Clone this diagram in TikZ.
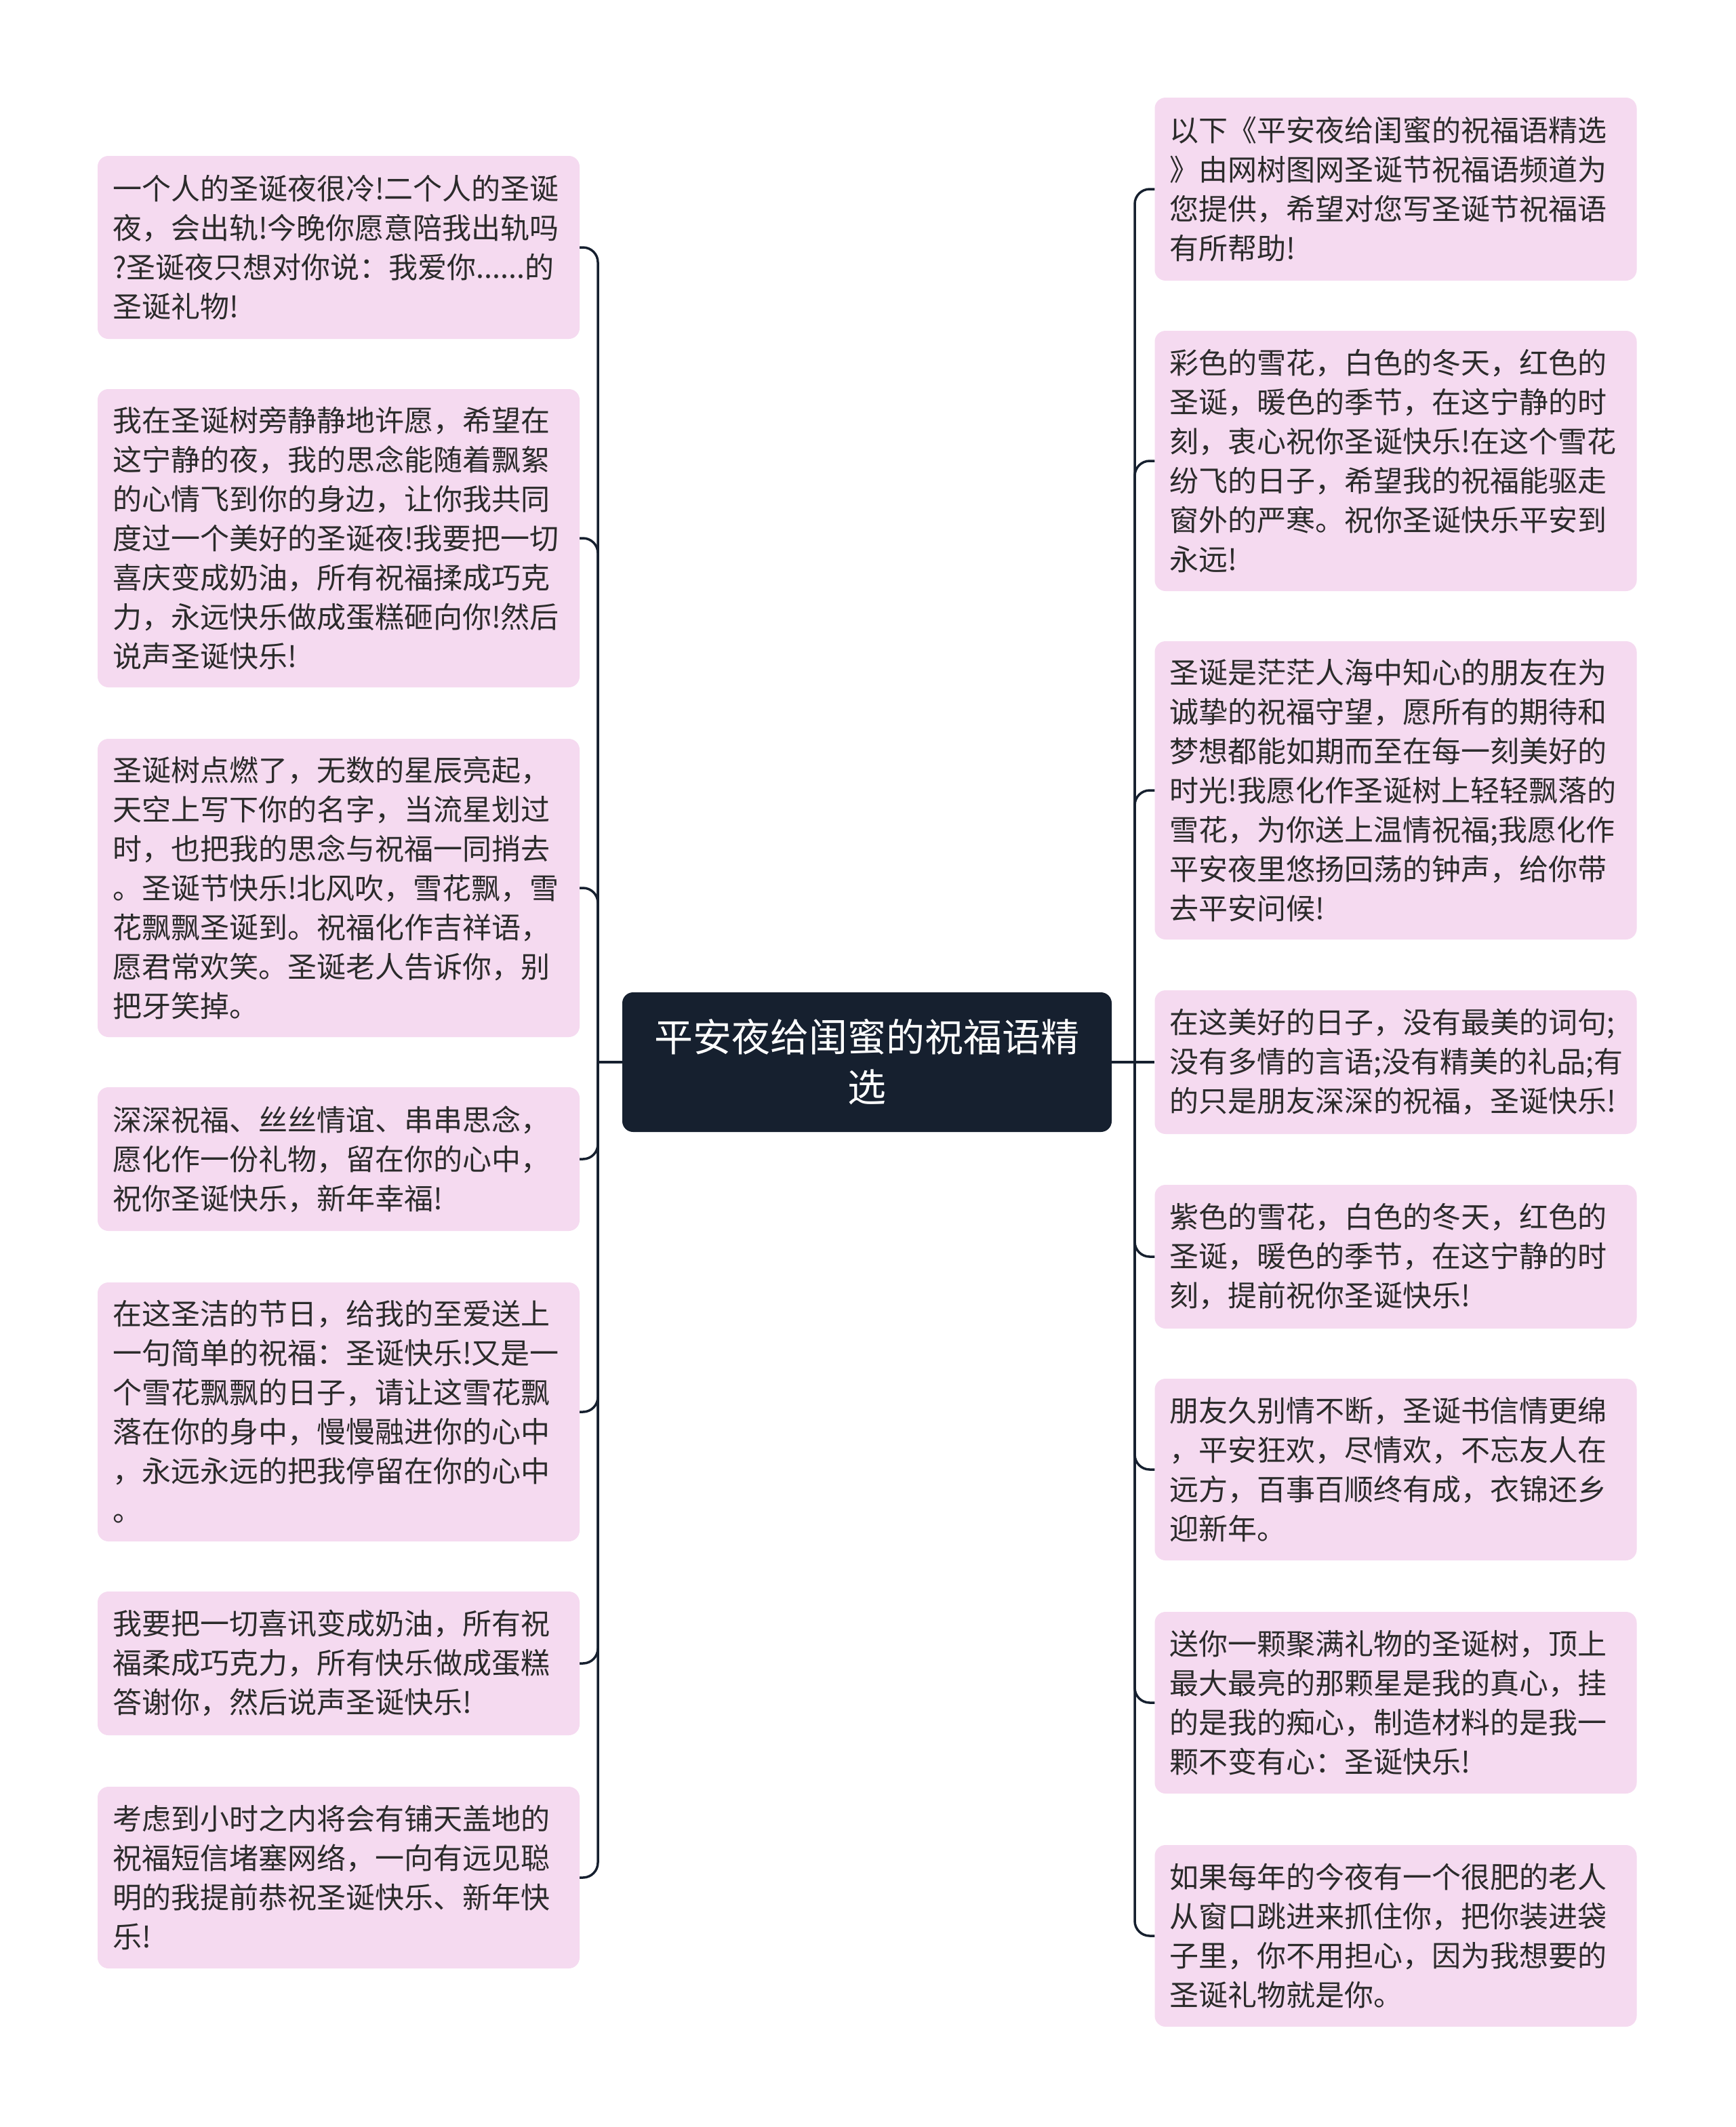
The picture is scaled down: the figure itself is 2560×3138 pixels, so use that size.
\documentclass[tikz,border=0pt]{standalone}
\usepackage{fontspec}
\setmainfont{Noto Sans CJK SC}
\definecolor{boxpink}{HTML}{F5DAF0}
\definecolor{navy}{HTML}{16202F}
\definecolor{txt}{HTML}{2B2B2B}
\begin{document}
\begin{tikzpicture}[x=1pt,y=-1pt,
  leaf/.style={fill=boxpink, rounded corners=16pt, text=txt, align=left,
    text width=667pt, inner xsep=22pt, inner ysep=10pt, minimum width=711pt,
    font=\fontsize{43}{58}\selectfont, anchor=center},
  root/.style={fill=navy, rounded corners=16pt, text=white, align=center,
    minimum width=722pt, minimum height=206pt, inner sep=10pt,
    font=\fontsize{57}{74}\selectfont},
  link/.style={draw=navy, line width=3.5pt, rounded corners=22pt}]
\useasboundingbox (0,0) rectangle (2560,3138);
\fill[white] (0,0) rectangle (2560,3138);

\node[root] (c) at (1279,1567) {平安夜给闺蜜的祝福语精\\选};

% left boxes
\node[leaf, minimum height=270pt] (L1) at (499.5,365) {一个人的圣诞夜很冷!二个人的圣诞\\夜，会出轨!今晚你愿意陪我出轨吗\\?圣诞夜只想对你说：我爱你......的\\圣诞礼物!};
\node[leaf, minimum height=440pt] (L2) at (499.5,794) {我在圣诞树旁静静地许愿，希望在\\这宁静的夜，我的思念能随着飘絮\\的心情飞到你的身边，让你我共同\\度过一个美好的圣诞夜!我要把一切\\喜庆变成奶油，所有祝福揉成巧克\\力，永远快乐做成蛋糕砸向你!然后\\说声圣诞快乐!};
\node[leaf, minimum height=440pt] (L3) at (499.5,1310) {圣诞树点燃了，无数的星辰亮起，\\天空上写下你的名字，当流星划过\\时，也把我的思念与祝福一同捎去\\。圣诞节快乐!北风吹，雪花飘，雪\\花飘飘圣诞到。祝福化作吉祥语，\\愿君常欢笑。圣诞老人告诉你，别\\把牙笑掉。};
\node[leaf, minimum height=212pt] (L4) at (499.5,1710) {深深祝福、丝丝情谊、串串思念，\\愿化作一份礼物，留在你的心中，\\祝你圣诞快乐，新年幸福!};
\node[leaf, minimum height=382pt] (L5) at (499.5,2083) {在这圣洁的节日，给我的至爱送上\\一句简单的祝福：圣诞快乐!又是一\\个雪花飘飘的日子，请让这雪花飘\\落在你的身中，慢慢融进你的心中\\，永远永远的把我停留在你的心中\\。};
\node[leaf, minimum height=212pt] (L6) at (499.5,2454) {我要把一切喜讯变成奶油，所有祝\\福柔成巧克力，所有快乐做成蛋糕\\答谢你，然后说声圣诞快乐!};
\node[leaf, minimum height=268pt] (L7) at (499.5,2770) {考虑到小时之内将会有铺天盖地的\\祝福短信堵塞网络，一向有远见聪\\明的我提前恭祝圣诞快乐、新年快\\乐!};

% right boxes
\node[leaf, minimum height=270pt] (R1) at (2059,279) {以下《平安夜给闺蜜的祝福语精选\\》由网树图网圣诞节祝福语频道为\\您提供，希望对您写圣诞节祝福语\\有所帮助!};
\node[leaf, minimum height=384pt] (R2) at (2059,680) {彩色的雪花，白色的冬天，红色的\\圣诞，暖色的季节，在这宁静的时\\刻，衷心祝你圣诞快乐!在这个雪花\\纷飞的日子，希望我的祝福能驱走\\窗外的严寒。祝你圣诞快乐平安到\\永远!};
\node[leaf, minimum height=440pt] (R3) at (2059,1166) {圣诞是茫茫人海中知心的朋友在为\\诚挚的祝福守望，愿所有的期待和\\梦想都能如期而至在每一刻美好的\\时光!我愿化作圣诞树上轻轻飘落的\\雪花，为你送上温情祝福;我愿化作\\平安夜里悠扬回荡的钟声，给你带\\去平安问候!};
\node[leaf, minimum height=212pt] (R4) at (2059,1567) {在这美好的日子，没有最美的词句;\\没有多情的言语;没有精美的礼品;有\\的只是朋友深深的祝福，圣诞快乐!};
\node[leaf, minimum height=212pt] (R5) at (2059,1854) {紫色的雪花，白色的冬天，红色的\\圣诞，暖色的季节，在这宁静的时\\刻，提前祝你圣诞快乐!};
\node[leaf, minimum height=268pt] (R6) at (2059,2168) {朋友久别情不断，圣诞书信情更绵\\，平安狂欢，尽情欢，不忘友人在\\远方，百事百顺终有成，衣锦还乡\\迎新年。};
\node[leaf, minimum height=268pt] (R7) at (2059,2512) {送你一颗聚满礼物的圣诞树，顶上\\最大最亮的那颗星是我的真心，挂\\的是我的痴心，制造材料的是我一\\颗不变有心：圣诞快乐!};
\node[leaf, minimum height=268pt] (R8) at (2059,2856) {如果每年的今夜有一个很肥的老人\\从窗口跳进来抓住你，把你装进袋\\子里，你不用担心，因为我想要的\\圣诞礼物就是你。};

% connectors
\coordinate (lj) at (882,1567);
\coordinate (rj) at (1674,1567);
\draw[link] (c.west) -- (lj);
\draw[link] (c.east) -- (rj);
\foreach \n in {L1,L2,L3,L4,L5,L6,L7}{\draw[link] (lj) |- (\n.east);}
\foreach \n in {R1,R2,R3,R5,R6,R7,R8}{\draw[link] (rj) |- (\n.west);}
\draw[link] (rj) -- (R4.west);
\end{tikzpicture}
\end{document}
